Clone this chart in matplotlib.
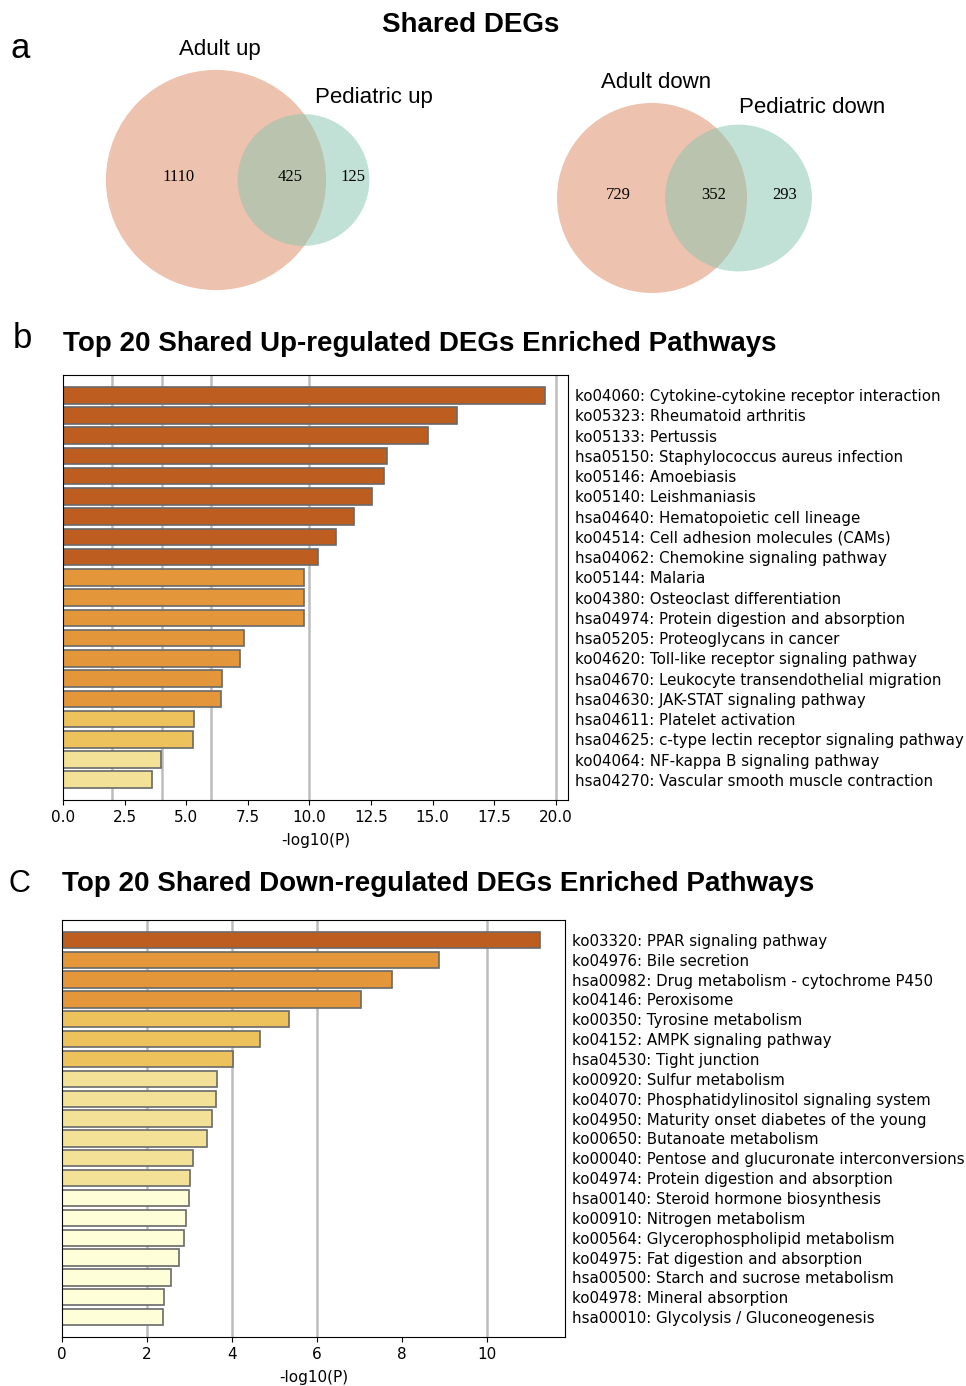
import numpy as np
import matplotlib.pyplot as plt
from matplotlib.patches import Circle

# == Venn counts == #
up_counts = (1110, 425, 125)      # adult only, shared, pediatric only
down_counts = (729, 352, 293)
up_names = ('Adult up', 'Pediatric up')
down_names = ('Adult down', 'Pediatric down')

# == Up-regulated pathways == #
up_terms = [
    'ko04060: Cytokine-cytokine receptor interaction',
    'ko05323: Rheumatoid arthritis',
    'ko05133: Pertussis',
    'hsa05150: Staphylococcus aureus infection',
    'ko05146: Amoebiasis',
    'ko05140: Leishmaniasis',
    'hsa04640: Hematopoietic cell lineage',
    'ko04514: Cell adhesion molecules (CAMs)',
    'hsa04062: Chemokine signaling pathway',
    'ko05144: Malaria',
    'ko04380: Osteoclast differentiation',
    'hsa04974: Protein digestion and absorption',
    'hsa05205: Proteoglycans in cancer',
    'ko04620: Toll-like receptor signaling pathway',
    'hsa04670: Leukocyte transendothelial migration',
    'hsa04630: JAK-STAT signaling pathway',
    'hsa04611: Platelet activation',
    'hsa04625: c-type lectin receptor signaling pathway',
    'ko04064: NF-kappa B signaling pathway',
    'hsa04270: Vascular smooth muscle contraction',
]
up_logp = [19.55, 16.0, 14.83, 13.16, 13.04, 12.56, 11.83, 11.08, 10.36, 9.80,
           9.80, 9.78, 7.33, 7.19, 6.46, 6.40, 5.33, 5.26, 3.99, 3.60]

# == Down-regulated pathways == #
down_terms = [
    'ko03320: PPAR signaling pathway',
    'ko04976: Bile secretion',
    'hsa00982: Drug metabolism - cytochrome P450',
    'ko04146: Peroxisome',
    'ko00350: Tyrosine metabolism',
    'ko04152: AMPK signaling pathway',
    'hsa04530: Tight junction',
    'ko00920: Sulfur metabolism',
    'ko04070: Phosphatidylinositol signaling system',
    'ko04950: Maturity onset diabetes of the young',
    'ko00650: Butanoate metabolism',
    'ko00040: Pentose and glucuronate interconversions',
    'ko04974: Protein digestion and absorption',
    'hsa00140: Steroid hormone biosynthesis',
    'ko00910: Nitrogen metabolism',
    'ko00564: Glycerophospholipid metabolism',
    'ko04975: Fat digestion and absorption',
    'hsa00500: Starch and sucrose metabolism',
    'ko04978: Mineral absorption',
    'hsa00010: Glycolysis / Gluconeogenesis',
]
down_logp = [11.25, 8.87, 7.76, 7.03, 5.35, 4.66, 4.02, 3.65, 3.63, 3.52,
             3.40, 3.07, 3.02, 2.98, 2.91, 2.88, 2.75, 2.56, 2.41, 2.37]

grid_levels = [2, 4, 6, 10, 20]
W, H = 966, 1386


def bar_colour(v):
    if v >= 10:
        return '#bd5e20'
    if v >= 6:
        return '#e3973a'
    if v >= 4:
        return '#edc25c'
    if v >= 3:
        return '#f3e197'
    return '#fefed9'


def overlap_area(r1, r2, d):
    a1 = r1**2 * np.arccos((d**2 + r1**2 - r2**2) / (2 * d * r1))
    a2 = r2**2 * np.arccos((d**2 + r2**2 - r1**2) / (2 * d * r2))
    k = 0.5 * np.sqrt((-d + r1 + r2) * (d + r1 - r2) * (d - r1 + r2) * (d + r1 + r2))
    return a1 + a2 - k


def draw_venn(ax, counts, names, cx, cy, scale, spread, lab_off):
    a_only, both, b_only = counts
    r1 = scale * np.sqrt(a_only + both)
    r2 = scale * np.sqrt(b_only + both)
    target = np.pi * scale**2 * both
    lo, hi = abs(r1 - r2) + 1e-6, r1 + r2 - 1e-6
    for _ in range(60):
        mid = 0.5 * (lo + hi)
        if overlap_area(r1, r2, mid) > target:
            lo = mid
        else:
            hi = mid
    d = 0.5 * (lo + hi) * spread
    cx2 = cx + d
    ax.add_patch(Circle((cx, cy), r1, fc='#dd875f', ec='none', alpha=0.5))
    ax.add_patch(Circle((cx2, cy), r2, fc='#87c5af', ec='none', alpha=0.5))
    left2, right1 = cx2 - r2, cx + r1
    num_kw = dict(ha='center', va='center', fontsize=12, family='Liberation Serif')
    ax.text((cx - r1 + left2) / 2 + 7, cy - 3, str(a_only), **num_kw)
    ax.text((left2 + right1) / 2 + 8, cy - 3, str(both), **num_kw)
    ax.text((right1 + cx2 + r2) / 2 + 5, cy - 3, str(b_only), **num_kw)
    lab_kw = dict(ha='center', va='center', fontsize=16, family='Liberation Sans')
    ax.text(cx + 4, cy - r1 - 20, names[0], **lab_kw)
    ax.text(cx2 + lab_off, cy - r2 - 17, names[1], **lab_kw)


def draw_bars(ax, terms, vals, xmax, ticks):
    y = np.arange(len(terms))
    ax.barh(y, vals, height=0.82, color=[bar_colour(v) for v in vals],
            edgecolor='#6a6a6a', linewidth=1.2, zorder=2)
    for g in grid_levels:
        if g < xmax:
            ax.axvline(g, color='#bdbdbd', lw=1.8, zorder=0)
    ax.set_xlim(0, xmax)
    ax.set_ylim(len(terms), -1)
    ax.set_xticks(ticks)
    ax.set_yticks(y)
    ax.set_yticklabels(terms, fontsize=10.8, family='DejaVu Sans')
    ax.yaxis.tick_right()
    ax.tick_params(axis='y', length=0, pad=5)
    ax.tick_params(axis='x', labelsize=11)
    ax.set_xlabel('-log10(P)', fontsize=11, labelpad=6)


fig = plt.figure(figsize=(W / 100, H / 100), dpi=100)

# Venn panel in pixel coordinates
axv = fig.add_axes([0, 1 - 300 / H, 1, 300 / H])
axv.set_xlim(0, W)
axv.set_ylim(300, 0)
axv.axis('off')
draw_venn(axv, up_counts, up_names, 216, 180, 2.81, 1.17, 70)
draw_venn(axv, down_counts, down_names, 652, 198, 2.89, 1.09, 74)

fig.text(471 / W, 1 - 25 / H, 'Shared DEGs', ha='center', va='center',
         fontsize=20, fontweight='bold', family='Liberation Sans')
fig.text(11 / W, 1 - 48 / H, 'a', ha='left', va='center', fontsize=25, family='Liberation Sans')
fig.text(13 / W, 1 - 338 / H, 'b', ha='left', va='center', fontsize=25, family='Liberation Sans')
fig.text(8 / W, 1 - 884 / H, 'C', ha='left', va='center', fontsize=22, family='Liberation Sans')

# Panel b
axb = fig.add_axes([63 / W, 1 - 800 / H, 505 / W, 425 / H])
draw_bars(axb, up_terms, up_logp, 20.5, np.arange(0, 20.1, 2.5))
fig.text(63 / W, 1 - 344 / H, 'Top 20 Shared Up-regulated DEGs Enriched Pathways',
         ha='left', va='center', fontsize=20, fontweight='bold', family='Liberation Sans')

# Panel c
axc = fig.add_axes([62 / W, 1 - 1337 / H, 503 / W, 417 / H])
draw_bars(axc, down_terms, down_logp, 11.83, np.arange(0, 11, 2))
fig.text(62 / W, 1 - 884 / H, 'Top 20 Shared Down-regulated DEGs Enriched Pathways',
         ha='left', va='center', fontsize=20, fontweight='bold', family='Liberation Sans')

fig.savefig('out.png', dpi=100)
